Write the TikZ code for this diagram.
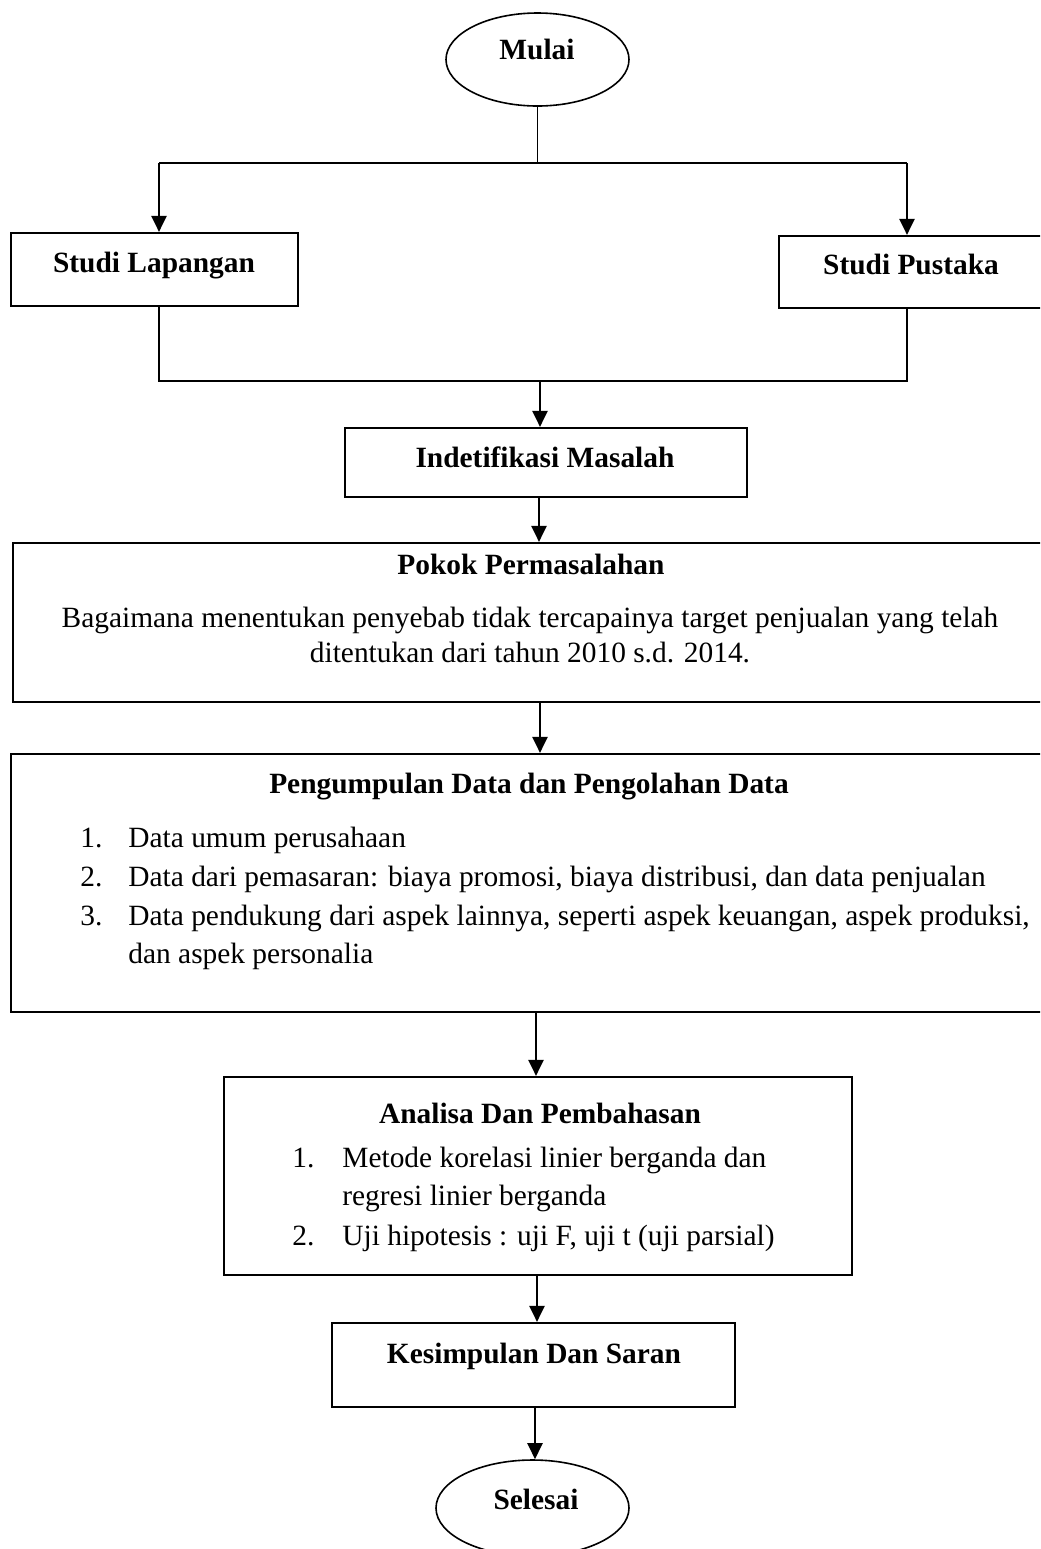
\documentclass[tikz,border=0pt]{standalone}
\usepackage{fontspec}
\setmainfont{Liberation Serif}
\usetikzlibrary{arrows.meta,shapes.geometric,fit}
\begin{document}
\begin{tikzpicture}[x=0.5pt,y=-0.5pt,
  font=\fontsize{14.7pt}{17pt}\selectfont,
  box/.style={draw, rectangle, line width=1.1pt, inner sep=0pt},
  term/.style={draw, ellipse, line width=0.8pt, inner sep=0pt},
  arr/.style={line width=1.1pt, -{Triangle[width=7.5pt,length=8pt]}},
  conn/.style={line width=1.1pt},
  thin conn/.style={line width=0.6pt},
  txt/.style={inner sep=0pt, anchor=base},
  lt/.style={inner sep=0pt, anchor=base west},
  bt/.style={inner sep=0pt, anchor=base, font=\fontsize{14.7pt}{17pt}\selectfont\bfseries}]
\useasboundingbox (0,0) rectangle (1040,1549);
\clip (0,0) rectangle (1040,1549);
\fill[white] (0,0) rectangle (1040,1549);

% terminals
\node[term, minimum width=91.5pt, minimum height=46.5pt] (mulai) at (537.5,59.5) {};
\node[term, minimum width=96.5pt, minimum height=48pt] (selesai) at (532.5,1508) {};

% boxes
\node[box, fit={(11,233) (298,306)}] (sl) {};
\node[box, fit={(779,236) (1060,308)}] (sp) {};
\node[box, fit={(345,428) (747,497)}] (im) {};
\node[box, fit={(13,543) (1060,702)}] (pp) {};
\node[box, fit={(11,754) (1060,1012)}] (pd) {};
\node[box, fit={(224,1077) (852,1275)}] (ap) {};
\node[box, fit={(332,1323) (735,1407)}] (ks) {};

% texts
\node[bt] (tmulai) at (537,59) {Mulai};
\node[bt] (tsl) at (154,272) {Studi Lapangan};
\node[bt] (tsp) at (911,274) {Studi Pustaka};
\node[bt] (tim) at (545,467) {Indetifikasi Masalah};
\node[bt] (tpp) at (531,574) {Pokok Permasalahan};
\node[txt] (tpp1) at (530,627) {Bagaimana menentukan penyebab tidak tercapainya target penjualan yang telah};
\node[txt] (tpp2) at (530,662) {ditentukan dari tahun 2010 s.d. 2014.};
\node[bt] (tpd) at (529,793) {Pengumpulan Data dan Pengolahan Data};
\node[lt] (n1) at (80,847) {1.};
\node[lt] (i1) at (128,847) {Data umum perusahaan};
\node[lt] (n2) at (80,886) {2.};
\node[lt] (i2) at (128,886) {Data dari pemasaran: biaya promosi, biaya distribusi, dan data penjualan};
\node[lt] (n3) at (80,925) {3.};
\node[lt] (i3) at (128,925) {Data pendukung dari aspek lainnya, seperti aspek keuangan, aspek produksi,};
\node[lt] (i3b) at (128,963) {dan aspek personalia};
\node[bt] (tap) at (540,1123) {Analisa Dan Pembahasan};
\node[lt] (a1n) at (292,1167) {1.};
\node[lt] (a1) at (342,1167) {Metode korelasi linier berganda dan};
\node[lt] (a1b) at (342,1205) {regresi linier berganda};
\node[lt] (a2n) at (292,1245) {2.};
\node[lt] (a2) at (342,1245) {Uji hipotesis : uji F, uji t (uji parsial)};
\node[bt] (tks) at (534,1363) {Kesimpulan Dan Saran};
\node[bt] (tse) at (536,1509) {Selesai};

% junction coordinates
\coordinate (j1) at (537.5,163);
\coordinate (jl) at (159,163);
\coordinate (jr) at (907,163);
\coordinate (kl) at (159,381);
\coordinate (kr) at (907,381);
\coordinate (k1) at (540,381);
\coordinate (c2) at (539,0);
\coordinate (c3) at (540,0);
\coordinate (c4) at (536,0);
\coordinate (c5) at (537,0);
\coordinate (c6) at (535,0);

% connectors
\draw[thin conn] (mulai.south) -- (j1);
\draw[conn] (jl) -- (jr);
\draw[arr] (jl) -- (jl |- sl.north);
\draw[arr] (jr) -- (jr |- sp.north);
\draw[conn] (kl |- sl.south) -- (kl) -- (kr) -- (kr |- sp.south);
\draw[arr] (k1) -- (k1 |- im.north);
\draw[arr] (im.south -| c2) -- (pp.north -| c2);
\draw[arr] (pp.south -| c3) -- (pd.north -| c3);
\draw[arr] (pd.south -| c4) -- (ap.north -| c4);
\draw[arr] (ap.south -| c5) -- (ks.north -| c5);
\draw[arr] (ks.south -| c6) -- (selesai.north -| c6);
\end{tikzpicture}
\end{document}
